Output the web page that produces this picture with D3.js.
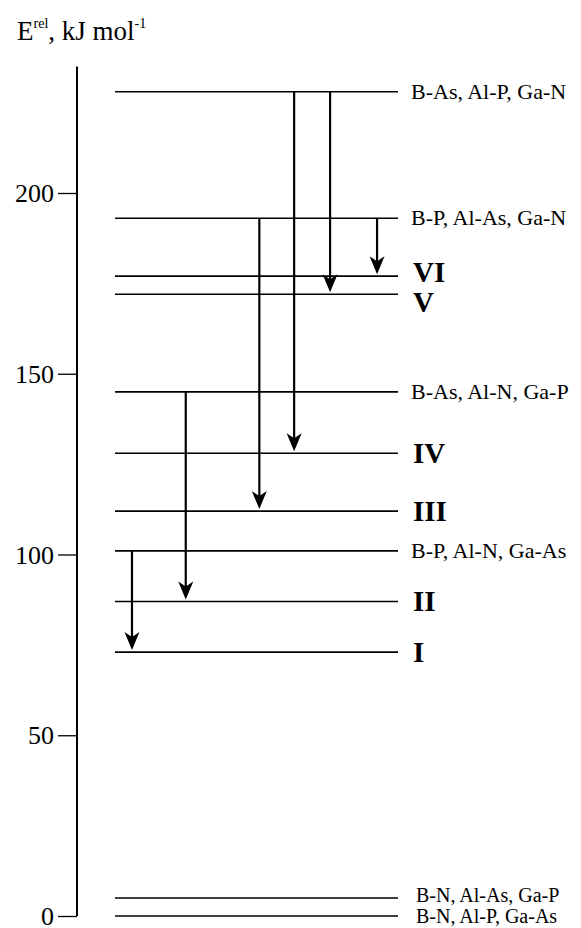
<!DOCTYPE html>
<html>
<head>
<meta charset="utf-8">
<script src="https://cdn.jsdelivr.net/npm/d3@7"></script>
<style>
  body { margin: 0; background: #fff; }
  svg text { font-family: "Liberation Serif", "DejaVu Serif", "Times New Roman", serif !important; }
</style>
</head>
<body>
<div class="chart"></div>
<script>
// energy levels (kJ/mol) and their labels
var levelValues = [228, 193, 177, 172, 145, 128, 112, 101, 87, 73, 5, 0];
var levelLabels = ["B-As, Al-P, Ga-N", "B-P, Al-As, Ga-N", "VI", "V", "B-As, Al-N, Ga-P",
                   "IV", "III", "B-P, Al-N, Ga-As", "II", "I", "B-N, Al-As, Ga-P", "B-N, Al-P, Ga-As"];
// transitions (from level -> to level)
var arrowFrom = [101, 145, 193, 228, 228, 193];
var arrowTo   = [73, 87, 112, 128, 172, 177];
var yTicks = [0, 50, 100, 150, 200];

var w = 581, h = 928;

var svg = d3.select(".chart").append("svg")
  .attr("width", w)
  .attr("height", h);

var y = d3.scaleLinear().domain([0, 200]).range([916, 193]);
// horizontal placement of the level lines and arrow columns
var x = d3.scaleLinear().domain([0, 1]).range([115, 398]);
var arrowCols = [0.06, 0.25, 0.51, 0.633, 0.76, 0.926];

// axis
var axis = d3.axisLeft(y).tickValues(yTicks).tickSize(19).tickPadding(4);
var gAxis = svg.append("g").attr("transform", "translate(77,0)").call(axis);
gAxis.attr("font-family", null).attr("font-size", null);
gAxis.select(".domain").remove();
gAxis.selectAll(".tick line").attr("stroke", "#000").attr("stroke-width", 1.3);
gAxis.selectAll(".tick text")
  .attr("font-size", 26)
  .attr("dy", "0.33em")
  .attr("fill", "#000");
svg.append("line")
  .attr("x1", 77).attr("x2", 77)
  .attr("y1", y(235)).attr("y2", y(0))
  .attr("stroke", "#000").attr("stroke-width", 2);

// axis title
var title = svg.append("text").attr("x", 17).attr("y", 40).attr("font-size", 27);
title.append("tspan").text("E");
title.append("tspan").attr("font-size", 14).attr("dy", -12).text("rel");
title.append("tspan").attr("dy", 12).text(", kJ mol");
title.append("tspan").attr("font-size", 14).attr("dy", -12).text("-1");

// levels
svg.selectAll(".level")
  .data(levelValues)
  .enter()
  .append("line")
  .attr("class", "level")
  .attr("x1", x(0)).attr("x2", x(1))
  .attr("y1", function(d) { return y(d); })
  .attr("y2", function(d) { return y(d); })
  .attr("stroke", "#000")
  .attr("stroke-width", 1.6);

var isRoman = function(s) { return /^[IVX]+$/.test(s); };

svg.selectAll(".lab")
  .data(levelValues)
  .enter()
  .append("text")
  .attr("class", "lab")
  .attr("x", function(d, i) {
    if (isRoman(levelLabels[i])) return 413;
    return d < 50 ? 416 : 411;
  })
  .attr("y", function(d, i) {
    var s = levelLabels[i];
    if (s == "VI") return y(d) + 6;
    if (s == "V") return y(d) + 18;
    if (isRoman(s)) return y(d) + 10;
    if (d == 5) return y(d) + 4;
    if (d == 0) return y(d) + 7;
    return y(d) + 7;
  })
  .attr("font-size", function(d, i) {
    if (isRoman(levelLabels[i])) return 29;
    return d < 50 ? 20 : 22;
  })
  .attr("font-weight", function(d, i) { return isRoman(levelLabels[i]) ? "bold" : "normal"; })
  .text(function(d, i) { return levelLabels[i]; });

// arrows
var arrows = svg.selectAll(".arrow")
  .data(arrowFrom)
  .enter()
  .append("g")
  .attr("class", "arrow")
  .attr("transform", function(d, i) { return "translate(" + x(arrowCols[i]) + ",0)"; });

arrows.append("line")
  .attr("x1", 0).attr("x2", 0)
  .attr("y1", function(d) { return y(d); })
  .attr("y2", function(d, i) { return y(arrowTo[i]) - 12; })
  .attr("stroke", "#000")
  .attr("stroke-width", 2.2);

arrows.append("path")
  .attr("d", function(d, i) {
    var t = y(arrowTo[i]) - 2;
    return "M0," + t + "L-7.5," + (t - 18) + "L0," + (t - 13) + "L7.5," + (t - 18) + "Z";
  })
  .attr("fill", "#000");
</script>
</body>
</html>
